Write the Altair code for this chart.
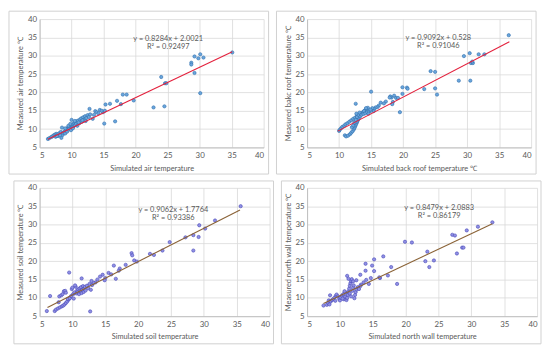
import altair as alt
import pandas as pd

# ---------------- data ----------------
air_x = [35.1, 30.1, 29.2, 29.8, 30.6, 28.7, 28.7, 29.2, 30.1, 24.0, 24.6, 24.8, 24.5, 22.8, 19.7,
         18.0, 18.6, 17.7, 17.1, 16.8, 16.0, 15.3, 15.1, 14.9, 14.4, 14.7, 13.7, 13.9, 13.3, 12.8,
         15.2, 14.2, 13.5,
         6.3, 6.5, 6.8, 7.0, 7.2, 7.4, 7.6, 7.8, 7.5, 7.9, 8.1, 8.3, 8.4, 8.5, 8.6, 8.7, 8.9, 9.0,
         9.1, 9.2, 9.3, 9.4, 9.5, 9.6, 9.7, 9.8, 9.9, 10.0, 10.0, 10.1, 10.2, 10.3, 10.4, 10.5,
         10.6, 10.7, 10.8, 10.9, 11.0, 11.2, 11.3, 11.5, 11.6, 11.8, 12.0, 12.1, 12.3, 12.5, 12.7,
         12.9, 9.5, 9.8, 10.2, 10.5, 11.1, 8.2, 7.7, 9.0, 11.7, 12.2]
air_y = [30.9, 30.4, 29.8, 29.3, 29.5, 28.1, 27.6, 25.3, 19.8, 24.2, 22.5, 22.5, 16.2, 15.9, 17.8,
         19.4, 19.4, 16.8, 17.7, 12.1, 16.9, 16.7, 11.5, 14.6, 15.2, 15.0, 14.9, 14.6, 12.8, 15.5,
         15.0, 14.3, 13.9,
         7.3, 7.5, 7.8, 8.0, 8.3, 8.5, 8.7, 8.6, 7.9, 8.1, 8.9, 9.2, 7.6, 10.4, 8.4, 9.0, 9.4, 8.8,
         9.7, 10.0, 9.3, 10.3, 9.9, 10.6, 10.2, 10.8, 9.7, 12.5, 11.0, 10.5, 11.3, 10.7, 11.6, 11.1,
         11.9, 11.4, 12.1, 10.9, 12.3, 11.6, 12.6, 12.9, 12.0, 13.2, 12.6, 13.5, 13.0, 13.8, 13.3,
         14.0, 10.9, 11.4, 10.2, 12.2, 11.8, 8.3, 8.1, 10.2, 12.4, 12.2]

roof_x = [36.5, 30.4, 29.5, 31.8, 32.7, 30.6, 30.9, 30.8, 28.7, 30.5, 24.3, 25.0, 25.0, 25.3, 23.3,
          19.9, 20.6, 20.7, 19.9, 19.5, 15.0, 12.6, 18.2, 18.4, 18.3, 18.0, 18.6, 18.9, 19.2, 17.9,
          17.3, 17.0, 16.5, 16.2, 16.0, 15.7, 15.5, 15.2, 15.4,
          10.0, 10.1, 10.3, 10.5, 10.8, 11.0, 11.3, 11.6, 11.9, 12.2, 12.5, 12.8, 13.1, 13.4, 13.7,
          14.0, 14.3, 14.5, 14.2, 13.9,
          10.9, 11.1, 11.4, 11.7, 11.9, 12.1, 12.3, 12.4, 12.5, 12.6, 12.7, 12.8, 12.9, 13.0, 13.1,
          13.3, 12.0, 12.2, 12.4, 12.6, 12.8, 13.0, 12.7, 13.2, 13.5, 13.8, 14.1, 14.4, 14.7, 15.0,
          14.6, 14.9]
roof_y = [35.6, 30.7, 29.9, 30.4, 30.4, 28.0, 28.0, 28.4, 23.2, 23.2, 25.8, 25.6, 21.1, 19.4, 20.9,
          21.4, 21.3, 21.0, 19.6, 14.6, 20.2, 16.9, 18.6, 17.4, 16.8, 18.9, 19.1, 18.5, 18.5, 18.6,
          17.5, 17.0, 17.2, 16.4, 16.0, 15.9, 15.5, 15.7, 14.9,
          9.5, 9.8, 10.2, 10.6, 10.9, 11.3, 11.6, 12.0, 12.4, 12.8, 13.1, 13.5, 13.8, 14.2, 14.6,
          15.0, 15.5, 15.8, 15.7, 14.9,
          8.3, 8.0, 8.2, 8.6, 9.0, 9.4, 9.9, 10.3, 10.7, 11.1, 11.5, 11.9, 12.3, 12.7, 13.1,
          13.5, 10.5, 11.0, 11.8, 12.5, 13.3, 13.9, 14.2, 14.5, 13.9, 14.1, 14.3, 14.6, 14.8, 15.0,
          14.2, 15.3]

soil_x = [35.6, 31.7, 29.3, 30.2, 29.2, 27.2, 28.4, 28.4, 24.8, 23.7, 21.8, 22.4, 19.0, 19.1, 19.4,
          19.8, 18.1, 16.3, 17.2, 17.05, 15.5, 15.9, 16.6, 15.0, 9.5, 11.4, 6.6, 6.1, 7.3, 12.7,
          14.6, 14.2, 14.9, 13.8, 13.5,
          7.5, 7.8, 8.1, 8.4, 8.6, 8.8, 9.0, 9.2, 9.4, 9.6, 7.9,
          8.0, 8.3, 8.5, 8.7, 8.9, 9.0, 9.3, 9.6, 9.8, 9.9, 10.0, 10.1, 10.2, 10.3, 10.5, 10.6,
          10.7, 10.8, 10.9, 11.0, 11.1, 11.2, 11.3, 11.4, 11.5, 11.6, 11.7, 11.8, 11.9, 12.0, 12.2,
          12.4, 12.6, 12.8, 13.0, 13.2, 12.9, 10.4]
soil_y = [35.0, 31.1, 29.8, 28.9, 26.6, 26.5, 27.1, 22.9, 25.2, 22.9, 22.0, 21.7, 22.2, 21.6, 20.2,
          19.9, 19.0, 18.8, 18.0, 17.4, 16.8, 16.4, 15.2, 15.4, 16.9, 15.3, 10.5, 6.4, 6.4, 6.3,
          16.3, 15.8, 14.8, 15.0, 14.2,
          6.8, 7.1, 7.4, 7.7, 7.9, 8.2, 8.6, 9.0, 9.5, 10.0, 8.8,
          10.4, 10.7, 11.0, 11.8, 11.9, 11.4, 9.7, 9.9, 10.5, 12.4, 12.8, 11.0, 9.8, 11.5, 13.0, 11.2,
          12.0, 11.6, 12.3, 11.0, 12.6, 11.8, 12.9, 11.3, 12.2, 13.2, 11.6, 12.5, 13.0, 12.0, 13.3,
          12.6, 13.8, 12.2, 13.5, 14.1, 14.6, 13.4]

wall_x = [33.2, 31.0, 29.3, 27.1, 27.5, 28.6, 28.8, 27.8, 23.3, 23.0, 24.3, 23.6, 19.9, 20.95, 17.8,
          17.3, 18.7, 16.6, 15.2, 13.9, 14.9, 15.2, 13.9, 13.1, 16.1, 14.7, 11.1, 14.0, 13.6, 14.4,
          13.2, 16.0,
          7.5, 8.0, 8.2, 8.3, 8.5, 8.6, 8.8, 9.0, 9.2, 9.4, 9.5, 9.7, 9.9, 10.0, 10.1, 10.3, 10.5,
          10.6, 10.8, 10.9, 11.0, 11.1, 11.2, 11.3, 11.4, 11.5, 11.6, 11.7, 11.8, 11.5, 11.7, 11.9,
          12.0, 12.1, 12.2, 12.3, 12.4, 12.5, 12.7, 12.9, 13.1, 12.0, 11.3, 12.5, 8.4, 9.3, 10.4, 10.7]
wall_y = [30.6, 29.4, 28.4, 27.2, 27.0, 23.7, 23.7, 22.1, 22.6, 20.0, 20.2, 18.4, 25.3, 25.1, 18.4,
          16.1, 13.8, 21.3, 20.5, 19.3, 18.8, 17.3, 17.4, 16.3, 15.4, 15.4, 16.0, 14.9, 14.2, 13.8,
          13.6, 15.6,
          7.9, 8.1, 8.6, 9.3, 10.7, 9.0, 9.4, 9.7, 10.1, 10.6, 10.9, 10.4, 9.7, 9.3, 10.1, 10.6, 11.0,
          9.6, 10.3, 11.4, 9.4, 10.0, 10.8, 11.7, 12.5, 13.3, 14.0, 14.6, 15.1, 11.2, 10.4, 11.9,
          12.7, 13.4, 9.9, 10.8, 11.6, 12.3, 12.9, 12.4, 13.2, 14.5, 15.2, 14.8, 8.2, 9.2, 9.8, 11.8]

# trendline equations as printed on the chart, with their x extent
fits = {
    "air":  {"slope": 0.8284, "icpt": 2.0021, "x": [6.3, 35.1]},
    "roof": {"slope": 0.9092, "icpt": 0.528,  "x": [9.8, 36.6]},
    "soil": {"slope": 0.9062, "icpt": 1.7764, "x": [6.2, 35.5]},
    "wall": {"slope": 0.8479, "icpt": 2.0883, "x": [7.5, 33.2]},
}
eq_text = {
    "air":  ["y = 0.8284x + 2.0021", "R² = 0.92497"],
    "roof": ["y = 0.9092x + 0.528", "R² = 0.91046"],
    "soil": ["y = 0.9062x + 1.7764", "R² = 0.93386"],
    "wall": ["y = 0.8479x + 2.0883", "R² = 0.86179"],
}
ticks = [5, 10, 15, 20, 25, 30, 35, 40]

# ---------------- styling ----------------
FONT = "Lato"
GRID = "#d9d9d9"
TXT = "#595959"


def panel(xs, ys, key, xtitle, ytitle, ann, pt_fill, pt_stroke, line_color, W, H, L, R, T, B):
    xscale = alt.Scale(domain=[5, 40], nice=False, zero=False)
    yscale = alt.Scale(domain=[5, 40], nice=False, zero=False)
    common = dict(values=ticks, grid=True, gridColor=GRID, gridWidth=0.8, domainColor="#bfbfbf",
                  ticks=False, labelColor=TXT, labelFontSize=8, labelFont=FONT,
                  titleFont=FONT, titleFontSize=7.5, titleFontWeight="normal", titleColor=TXT)
    xaxis = alt.Axis(title=xtitle, labelPadding=4, titlePadding=5, **common)
    yaxis = alt.Axis(title=ytitle, labelPadding=3, titlePadding=3, **common)
    X = alt.X("x:Q", scale=xscale, axis=xaxis)
    Y = alt.Y("y:Q", scale=yscale, axis=yaxis)

    frame = alt.Chart(pd.DataFrame({"k": [0]})).mark_rect(
        fillOpacity=0, stroke="#d0d0d0", strokeWidth=1
    ).encode(x=alt.value(-L), x2=alt.value(W + R), y=alt.value(-T), y2=alt.value(H + B))

    pts = alt.Chart(pd.DataFrame({"x": xs, "y": ys})).mark_circle(
        size=11, fill=pt_fill, stroke=pt_stroke, strokeWidth=0.6, opacity=1
    ).encode(x=X, y=Y)

    f = fits[key]
    line_df = pd.DataFrame({"x": f["x"], "y": [f["slope"] * v + f["icpt"] for v in f["x"]]})
    line = alt.Chart(line_df).mark_line(color=line_color, strokeWidth=1.1).encode(x=X, y=Y)

    txt_df = pd.DataFrame({"x": [ann[0], ann[0]], "y": [ann[1], ann[2]], "t": eq_text[key]})
    txt = alt.Chart(txt_df).mark_text(fontSize=7.5, color=TXT, font=FONT).encode(x=X, y=Y, text="t:N")

    return alt.layer(frame, pts, line, txt).properties(width=W, height=H)


BLUE_F, BLUE_S = "#6aa6dc", "#2f6fae"
PURP_F, PURP_S = "#9090e4", "#4848b8"
RED, BROWN = "#e3203c", "#8a6236"

p1 = panel(air_x, air_y, "air", "Simulated air temperature", "Measured air temperature    ℃",
           (25.1, 34.5, 32.3), BLUE_F, BLUE_S, RED, 227, 130, 31, 5, 8, 27)
p2 = panel(roof_x, roof_y, "roof", "Simulated back roof temperature  ℃",
           "Measured bakc roof temperature  ℃", (25.5, 34.75, 32.6), BLUE_F, BLUE_S, RED,
           227, 130, 31, 5, 8, 27)
p3 = panel(soil_x, soil_y, "soil", "Simulated soil temperature", "Measured soil temperature  ℃",
           (25.35, 34.0, 31.85), PURP_F, PURP_S, BROWN, 233, 130, 26, 4, 7, 28)
p4 = panel(wall_x, wall_y, "wall", "Simulated north wall temperature",
           "Measured north wall temperature  ℃", (25.1, 34.4, 32.3), PURP_F, PURP_S, BROWN,
           233, 130, 26, 4, 7, 28)

chart = alt.vconcat(
    alt.hconcat(p1, p2, spacing=6),
    alt.hconcat(p3, p4, spacing=6),
    spacing=5,
).properties(padding=0, background="white").configure_view(stroke="transparent")

chart.save("out.html", embed_options={"renderer": "svg", "actions": False})
